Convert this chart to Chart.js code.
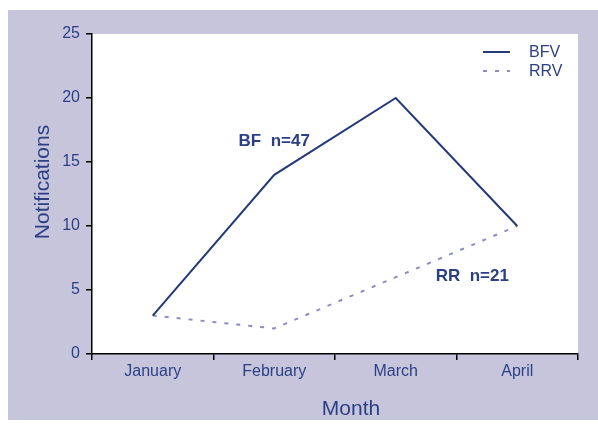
<!DOCTYPE html>
<html>
<head>
<meta charset="utf-8">
<script src="https://cdn.jsdelivr.net/npm/chart.js@4"></script>
<style>
  html, body { margin: 0; padding: 0; background: #fff; }
  #wrap { position: absolute; left: 8px; top: 10px; width: 590px; height: 410px; background: #c7c5dc; }
</style>
</head>
<body>
<div id="wrap"><canvas id="chart"></canvas></div>
<script>
const months = ['January', 'February', 'March', 'April'];
const bfv = [3, 14, 20, 10];
const rrv = [3, 2, 6, 10];
const seriesNames = ['BFV', 'RRV'];
const xTitle = 'Month';
const yTitle = 'Notifications';

// notes placed in data units (category index, notifications)
const noteText = ['BF  n=47', 'RR  n=21'];
const noteX = [1.0, 2.63];
const noteY = [16.6, 6.1];

const navy = '#24397a';
const textColor = '#2b3f85';
const lilac = '#8c8cc0';
const fontFamily = '"Liberation Sans", Arial, sans-serif';

const paperPlugin = {
    id: 'paper',
    beforeDraw(chart) {
        const {ctx, chartArea} = chart;
        ctx.save();
        ctx.fillStyle = '#fff';
        ctx.fillRect(chartArea.left, chartArea.top, chartArea.right - chartArea.left, chartArea.bottom - chartArea.top);
        ctx.restore();
    }
};

const notesPlugin = {
    id: 'notes',
    afterDraw(chart) {
        const {ctx, chartArea} = chart;
        const xs = chart.scales.x, ys = chart.scales.y;
        ctx.save();
        ctx.fillStyle = textColor;
        ctx.textAlign = 'center';
        ctx.textBaseline = 'middle';

        ctx.font = 'bold 17px ' + fontFamily;
        noteText.forEach((t, i) => {
            ctx.fillText(t, xs.getPixelForValue(noteX[i]), ys.getPixelForValue(noteY[i]));
        });

        // axis titles (sit a little off-centre in the original)
        ctx.font = '21px ' + fontFamily;
        ctx.fillText(xTitle, chartArea.left + 259, chartArea.bottom + 55);
        ctx.save();
        ctx.translate(chartArea.left - 49, chartArea.top + 148);
        ctx.rotate(-Math.PI / 2);
        ctx.fillText(yTitle, 0, 0);
        ctx.restore();

        // legend, top right of the plot
        ctx.font = '16px ' + fontFamily;
        ctx.textAlign = 'left';
        chart.data.datasets.forEach((ds, i) => {
            const y = chartArea.top + 18 + i * 19;
            ctx.strokeStyle = ds.borderColor;
            ctx.lineWidth = ds.borderWidth;
            ctx.setLineDash(ds.borderDash || []);
            ctx.beginPath();
            ctx.moveTo(chartArea.right - 95, y);
            ctx.lineTo(chartArea.right - 68, y);
            ctx.stroke();
            ctx.fillStyle = textColor;
            ctx.fillText(ds.label, chartArea.right - 49, y + 1);
        });
        ctx.restore();
    }
};

new Chart(document.getElementById('chart'), {
    type: 'line',
    data: {
        labels: months,
        datasets: [
            {
                label: seriesNames[0],
                data: bfv,
                borderColor: navy,
                borderWidth: 2,
                tension: 0,
                pointRadius: 0,
                fill: false
            },
            {
                label: seriesNames[1],
                data: rrv,
                borderColor: lilac,
                borderWidth: 2,
                borderDash: [4, 8],
                tension: 0,
                pointRadius: 0,
                fill: false
            }
        ]
    },
    options: {
        responsive: true,
        maintainAspectRatio: false,
        animation: false,
        layout: { padding: { left: 0, right: 20, top: 24, bottom: 0 } },
        plugins: {
            legend: { display: false },
            tooltip: { enabled: false }
        },
        scales: {
            x: {
                offset: true,
                afterFit(scale) { scale.height = 66; },
                grid: { offset: true, drawOnChartArea: false, tickLength: 6, color: '#000', lineWidth: 1.5 },
                border: { color: '#000', width: 1.5 },
                ticks: { color: textColor, padding: 2, font: { family: fontFamily, size: 16 } }
            },
            y: {
                min: 0,
                max: 25,
                afterFit(scale) { scale.width = 84; },
                ticks: { stepSize: 5, color: textColor, padding: 6, font: { family: fontFamily, size: 16 } },
                grid: { drawOnChartArea: false, tickLength: 6, color: '#000', lineWidth: 1.5 },
                border: { color: '#000', width: 1.5 }
            }
        }
    },
    plugins: [paperPlugin, notesPlugin]
});
</script>
</body>
</html>
